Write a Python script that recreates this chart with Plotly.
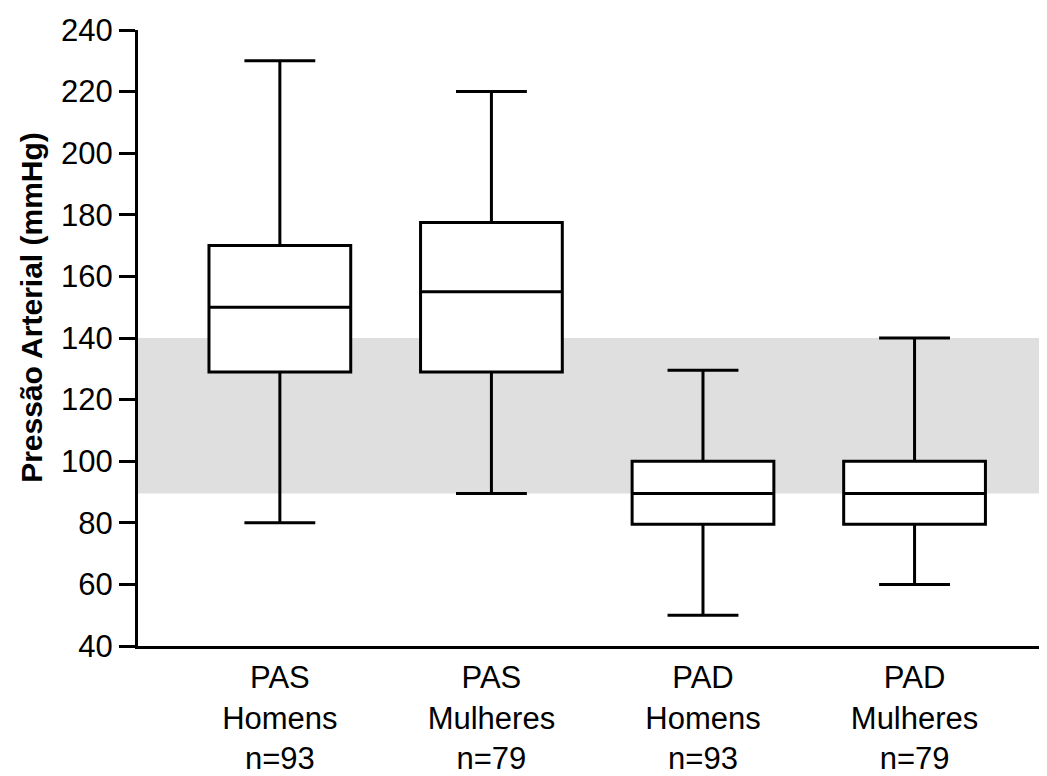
import plotly.graph_objects as go

categories = ["PAS<br>Homens<br>n=93", "PAS<br>Mulheres<br>n=79", "PAD<br>Homens<br>n=93", "PAD<br>Mulheres<br>n=79"]
positions = [0, 1, 2, 3]
lower_whisker = [80, 89.5, 50, 60]
q1 = [129, 129, 79.5, 79.5]
median = [150, 155, 89.5, 89.5]
q3 = [170, 177.5, 100, 100]
upper_whisker = [230, 220, 129.5, 140]
band_low, band_high = 89.5, 140
y_ticks = [40, 60, 80, 100, 120, 140, 160, 180, 200, 220, 240]

FONT = "Liberation Sans, Arial, Helvetica, sans-serif"

fig = go.Figure()
fig.add_trace(go.Box(
    x=positions, q1=q1, median=median, q3=q3,
    lowerfence=lower_whisker, upperfence=upper_whisker,
    width=0.67, whiskerwidth=0.5,
    fillcolor="white", line=dict(color="black", width=3),
    boxpoints=False, hoverinfo="skip", showlegend=False,
))

fig.add_shape(type="rect", xref="paper", x0=0, x1=1, yref="y", y0=band_low, y1=band_high,
              fillcolor="#dfdfdf", line=dict(width=0), layer="below")

fig.update_layout(
    width=1039, height=768,
    margin=dict(l=130, r=0, t=22, b=130, pad=0),
    paper_bgcolor="white", plot_bgcolor="white",
    font=dict(family=FONT, color="black"),
    xaxis=dict(
        range=[-0.6705, 3.626], tickvals=positions, ticktext=categories,
        showgrid=False, zeroline=False, showline=True, linecolor="black", linewidth=3,
        ticks="", tickfont=dict(size=31, family=FONT), ticklabelstandoff=2,
    ),
    yaxis=dict(
        range=[40, 240], tickvals=y_ticks,
        showgrid=False, zeroline=False, showline=True, linecolor="black", linewidth=3,
        ticks="outside", ticklen=16, tickwidth=3, tickcolor="black",
        tickfont=dict(size=31, family=FONT),
    ),
    annotations=[dict(
        text="<b>Pressão Arterial (mmHg)</b>", textangle=-90,
        xref="paper", yref="paper", x=-0.117, y=0.55, xanchor="center", yanchor="middle",
        showarrow=False, font=dict(size=30, family=FONT, color="black"),
    )],
)

fig.write_html("out.html")
